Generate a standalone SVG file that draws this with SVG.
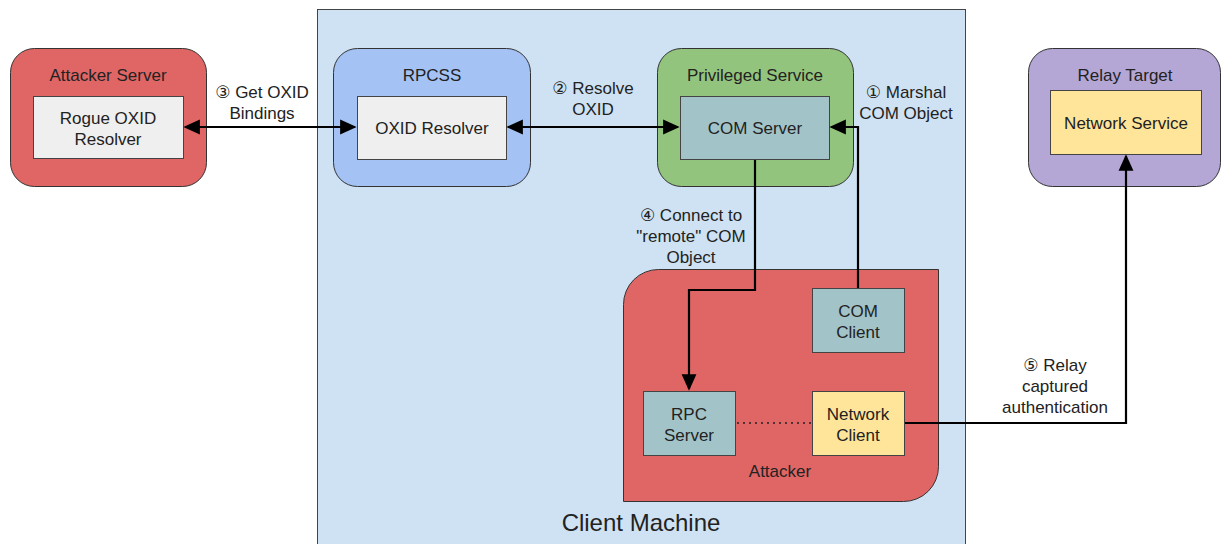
<svg xmlns="http://www.w3.org/2000/svg" width="1221" height="544" viewBox="0 0 1221 544">
<defs>
<style>
text{font-family:"Liberation Sans","DejaVu Sans",sans-serif;font-size:17px;fill:#222;text-anchor:middle}
.big{font-size:24px}
.frame{stroke:#333;stroke-width:1}
.inner{stroke:#444;stroke-width:1}
.conn{fill:none;stroke:#000;stroke-width:2.2}
</style>
<marker id="ah" viewBox="0 0 10 10" refX="9" refY="5" markerWidth="7.5" markerHeight="7.5" orient="auto-start-reverse" markerUnits="strokeWidth">
<path d="M0,0.5 L10,5 L0,9.5 z" fill="#000"/>
</marker>
</defs>
<rect x="0" y="0" width="1221" height="544" fill="#fff"/>
<g id="client-machine">
<rect x="317.5" y="9.5" width="648" height="545" fill="#cfe2f3" stroke="#444"/>
<text class="big" x="641" y="531">Client Machine</text>
</g>
<g id="attacker-server">
<rect class="frame" x="10.5" y="48.5" width="196" height="138" rx="24" fill="#e06666"/>
<text x="108" y="81">Attacker Server</text>
<rect class="inner" x="33.5" y="96.5" width="150" height="62" fill="#efefef"/>
<text x="108" y="124">Rogue OXID</text>
<text x="108" y="145">Resolver</text>
</g>
<g id="rpcss">
<rect class="frame" x="333.5" y="48.5" width="197" height="138" rx="24" fill="#a4c2f4"/>
<text x="432" y="81">RPCSS</text>
<rect class="inner" x="357.5" y="96.5" width="149" height="63" fill="#efefef"/>
<text x="432" y="134">OXID Resolver</text>
</g>
<g id="privileged-service">
<rect class="frame" x="657.5" y="48.5" width="196" height="138" rx="24" fill="#93c47d"/>
<text x="755" y="81">Privileged Service</text>
<rect class="inner" x="680.5" y="96.5" width="149" height="63" fill="#a2c4c9"/>
<text x="755" y="134">COM Server</text>
</g>
<g id="relay-target">
<rect class="frame" x="1028.5" y="48.5" width="192" height="138" rx="24" fill="#b4a7d6"/>
<text x="1125" y="81">Relay Target</text>
<rect class="inner" x="1050.5" y="90.5" width="151" height="64" fill="#ffe599"/>
<text x="1126" y="129">Network Service</text>
</g>
<g id="attacker">
<path class="frame" d="M658.5,269.5 H938.5 V466.5 A35,35 0 0 1 903.5,501.5 H623.5 V304.5 A35,35 0 0 1 658.5,269.5 Z" fill="#e06666"/>
<text x="780" y="477">Attacker</text>
</g>
<g id="com-client">
<rect class="inner" x="812.5" y="288.5" width="92" height="64" fill="#a2c4c9"/>
<text x="858" y="317">COM</text>
<text x="858" y="338">Client</text>
</g>
<g id="rpc-server">
<rect class="inner" x="643.5" y="391.5" width="92" height="64" fill="#a2c4c9"/>
<text x="689" y="420">RPC</text>
<text x="689" y="441">Server</text>
</g>
<g id="network-client">
<rect class="inner" x="812.5" y="391.5" width="92" height="64" fill="#ffe599"/>
<text x="858" y="420">Network</text>
<text x="858" y="441">Client</text>
</g>
<g id="connectors">
<line class="conn" x1="355" y1="127" x2="185" y2="127" marker-start="url(#ah)" marker-end="url(#ah)"/>
<line class="conn" x1="508" y1="127" x2="678" y2="127" marker-start="url(#ah)" marker-end="url(#ah)"/>
<polyline class="conn" points="858,288 858,127 831,127" marker-end="url(#ah)"/>
<polyline class="conn" points="755,160 755,290 689,290 689,389" marker-end="url(#ah)"/>
<polyline class="conn" points="905,423 1126,423 1126,156" marker-end="url(#ah)"/>
<line x1="737" y1="423" x2="811" y2="423" stroke="#222" stroke-width="1.5" stroke-dasharray="2,4"/>
<text x="262" y="98">③ Get OXID</text>
<text x="262" y="119">Bindings</text>
<text x="593" y="94">② Resolve</text>
<text x="593" y="115">OXID</text>
<text x="906" y="98">① Marshal</text>
<text x="906" y="119">COM Object</text>
<text x="691" y="221">④ Connect to</text>
<text x="691" y="242">"remote" COM</text>
<text x="691" y="263">Object</text>
<text x="1055" y="371">⑤ Relay</text>
<text x="1055" y="392">captured</text>
<text x="1055" y="413">authentication</text>
</g>
</svg>
